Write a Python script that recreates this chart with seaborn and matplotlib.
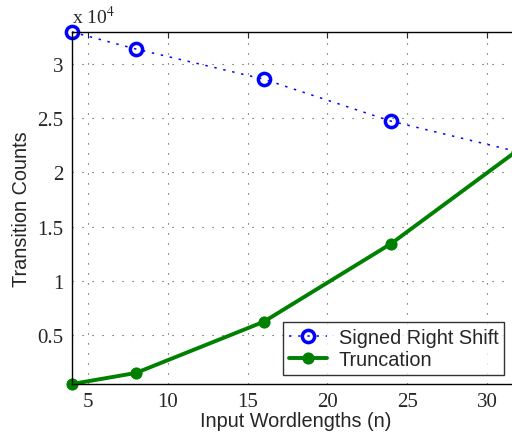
import matplotlib
matplotlib.use("Agg")
import matplotlib.pyplot as plt
import seaborn as sns
import pandas as pd

# values
wordlengths = [4, 8, 16, 24, 32]
signed_shift = [32960, 31390, 28610, 24720, 21880]
truncation = [460, 1480, 6200, 13430, 22130]

sns.set_style("white")
plt.rcParams['font.family'] = ['Liberation Sans', 'DejaVu Sans']
plt.rcParams['mathtext.fontset'] = 'stix'

df = pd.DataFrame({
    'n': wordlengths * 2,
    'count': signed_shift + truncation,
    'method': ['Signed Right Shift'] * 5 + ['Truncation'] * 5,
})

fig = plt.figure(figsize=(5.12, 4.35), dpi=100)
# right edge deliberately past the canvas, as in the reference
ax = fig.add_axes([72 / 512, 50 / 435, 447 / 512, 352 / 435])

sns.lineplot(data=df[df['method'] == 'Signed Right Shift'], x='n', y='count',
             ax=ax, color='blue', linestyle=(0, (1.6, 4.4)), linewidth=1.1, marker='o',
             markersize=8.8, markerfacecolor='none', markeredgecolor='blue',
             markeredgewidth=2.5, label='Signed Right Shift', clip_on=False)
sns.lineplot(data=df[df['method'] == 'Truncation'], x='n', y='count',
             ax=ax, color='#008000', linewidth=2.8, marker='o', markersize=8,
             markeredgecolor='#008000', label='Truncation', clip_on=False)

ax.set_xlim(4, 32)
ax.set_ylim(460, 32960)
ax.set_xticks([5, 10, 15, 20, 25, 30])
ax.set_yticks([5000, 10000, 15000, 20000, 25000, 30000])
ax.set_xticklabels(['5', '10', '15', '20', '25', '30'], family='Liberation Serif', fontsize=15)
ax.set_yticklabels(['0.5', '1', '1.5', '2', '2.5', '3'], family='Liberation Serif', fontsize=15)
ax.tick_params(direction='in', length=4, top=True, right=True, width=0.8, pad=6)
ax.grid(True, linestyle=(0, (1, 8)), color='#444444', linewidth=0.8)
for sp in ax.spines.values():
    sp.set_color('black')
    sp.set_linewidth(1.0)

ax.set_xlabel('Input Wordlengths (n)', fontsize=14.3, labelpad=0)
ax.set_ylabel('Transition Counts', fontsize=14.3, labelpad=5)
ax.text(0.0, 1.015, r'x 10$^{4}$', transform=ax.transAxes, fontsize=14,
        family='Liberation Serif', ha='left', va='bottom')

leg = ax.legend(loc='lower left', bbox_to_anchor=(211 / 447, 9 / 352),
                borderaxespad=0, fontsize=14.3, frameon=True, fancybox=False,
                borderpad=0.3, handlelength=1.9, labelspacing=0.15,
                handletextpad=0.6)
leg.get_frame().set_edgecolor('black')
leg.get_frame().set_linewidth(1.0)

fig.savefig('out.png', dpi=100)
